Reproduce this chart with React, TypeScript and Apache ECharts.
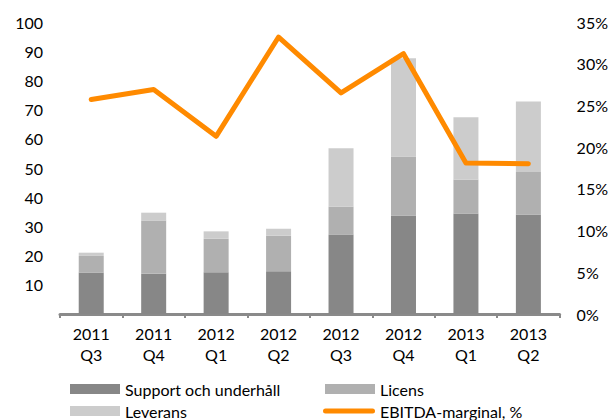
import React, { useEffect, useRef } from "react";
import * as echarts from "echarts";

const categories = ["2011\nQ3", "2011\nQ4", "2012\nQ1", "2012\nQ2", "2012\nQ3", "2012\nQ4", "2013\nQ1", "2013\nQ2"];
const support = [14.2, 13.8, 14.3, 14.6, 27.1, 33.7, 34.3, 34.1];
const licens = [5.7, 18.2, 11.5, 12.2, 9.7, 20.2, 11.7, 14.5];
const leverans = [1.1, 2.7, 2.5, 2.4, 20.0, 33.7, 21.4, 24.2];
const ebitda = [25.7, 26.9, 21.3, 33.2, 26.5, 31.2, 18.1, 18.0];

const FONT = "Lato";

export default function App() {
  const ref = useRef<HTMLDivElement>(null);
  useEffect(() => {
    const chart = echarts.init(ref.current!, undefined, { renderer: "svg" });
    const legendBase = {
      itemWidth: 50,
      itemHeight: 10,
      textStyle: { fontFamily: FONT, fontSize: 16, color: "#000" },
      padding: 0,
    };
    chart.setOption({
      animation: false,
      textStyle: { fontFamily: FONT },
      grid: { left: 60, right: 51, top: 22, bottom: 106 },
      legend: [
        { ...legendBase, left: 70, top: 381, data: [{ name: "Support och underhåll", icon: "rect" }] },
        { ...legendBase, left: 325, top: 381, data: [{ name: "Licens", icon: "rect" }] },
        { ...legendBase, left: 70, top: 403, data: [{ name: "Leverans", icon: "rect" }] },
        {
          ...legendBase,
          left: 323,
          top: 403,
          itemWidth: 52,
          itemHeight: 10,
          data: [{ name: "EBITDA-marginal, %", icon: "path://M2.5,2.5 L49.5,2.5 A2.5,2.5 0 0 1 49.5,7.5 L2.5,7.5 A2.5,2.5 0 0 1 2.5,2.5 Z" }],
        },
      ],
      xAxis: {
        type: "category",
        data: categories,
        axisLine: { lineStyle: { color: "#8a8a8a", width: 3 } },
        axisTick: { show: true, length: 4, lineStyle: { color: "#8a8a8a", width: 2 } },
        axisLabel: { fontFamily: FONT, fontSize: 16, color: "#000", margin: 9, lineHeight: 21 },
      },
      yAxis: [
        {
          type: "value",
          min: 0,
          max: 100,
          interval: 10,
          axisLine: { show: false },
          axisTick: { show: false },
          splitLine: { show: false },
          axisLabel: {
            fontFamily: FONT,
            fontSize: 16,
            color: "#000",
            margin: 17,
            formatter: (v: number) => (v === 0 ? "" : String(v)),
          },
        },
        {
          type: "value",
          min: 0,
          max: 35,
          interval: 5,
          position: "right",
          axisLine: { show: false },
          axisTick: { show: false },
          splitLine: { show: false },
          axisLabel: {
            fontFamily: FONT,
            fontSize: 16,
            color: "#000",
            margin: 17,
            formatter: (v: number) => v + "%",
          },
        },
      ],
      series: [
        { name: "Support och underhåll", type: "bar", stack: "a", barWidth: 25, data: support, itemStyle: { color: "#878787" } },
        { name: "Licens", type: "bar", stack: "a", barWidth: 25, data: licens, itemStyle: { color: "#b0b0b0" } },
        { name: "Leverans", type: "bar", stack: "a", barWidth: 25, data: leverans, itemStyle: { color: "#cccccc" } },
        {
          name: "EBITDA-marginal, %",
          type: "line",
          yAxisIndex: 1,
          data: ebitda,
          symbol: "none",
          z: 5,
          lineStyle: { color: "#ff8a00", width: 5, cap: "round", join: "round" },
          itemStyle: { color: "#ff8a00" },
        },
      ],
    });
    return () => chart.dispose();
  }, []);
  return <div ref={ref} style={{ width: 611, height: 420, position: "absolute", left: 0, top: 0 }} />;
}
